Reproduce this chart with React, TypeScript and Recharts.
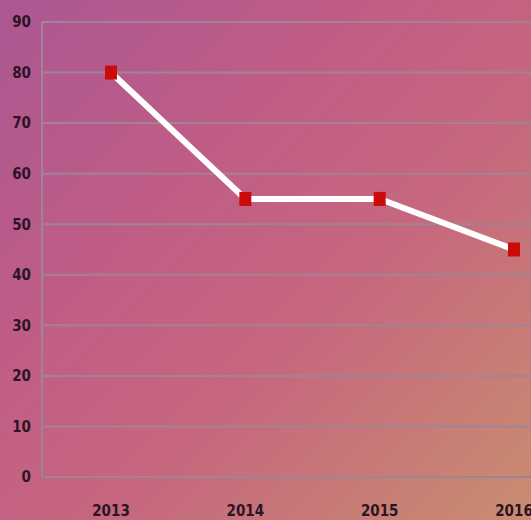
import { CartesianGrid, Line, LineChart, XAxis, YAxis } from "recharts";

const years = ["2013", "2014", "2015", "2016"];
const values = [80, 55, 55, 45];
const yTicks = [0, 10, 20, 30, 40, 50, 60, 70, 80, 90];

const data = years.map((year, i) => ({ year, value: values[i] }));

const tickStyle = {
  fill: "#2b1524",
  fontSize: 15,
  fontWeight: 700,
  fontFamily: "'DejaVu Sans Condensed', 'Open Sans', sans-serif",
};

function SquareDot(props: any) {
  const { cx, cy } = props;
  if (cx == null || cy == null) return null;
  return <rect x={cx - 6} y={cy - 7} width={12} height={14} fill="#cc0a0a" />;
}

export default function App() {
  return (
    <div
      style={{
        position: "fixed",
        left: 0,
        top: 0,
        width: 531,
        height: 520,
        overflow: "hidden",
        background: "linear-gradient(135deg, #ab5793 0%, #c05d86 35%, #c6677e 60%, #c98d70 100%)",
      }}
    >
      <LineChart width={531} height={520} data={data} margin={{ top: 22, right: 0, bottom: 0, left: 0 }}>
        <CartesianGrid stroke="#9f8593" strokeWidth={2} vertical={false} />
        <XAxis
          dataKey="year"
          padding={{ left: 69, right: 17 }}
          height={43}
          tickLine={false}
          tickMargin={22}
          stroke="#9f8593"
          strokeWidth={2}
          tick={tickStyle}
          interval={0}
        />
        <YAxis
          domain={[0, 90]}
          ticks={yTicks}
          width={42}
          tickLine={false}
          tickMargin={5}
          stroke="#9f8593"
          strokeWidth={2}
          tick={tickStyle}
        />
        <Line
          type="linear"
          dataKey="value"
          stroke="#ffffff"
          strokeWidth={6}
          dot={<SquareDot />}
          activeDot={false}
          isAnimationActive={false}
        />
      </LineChart>
    </div>
  );
}
